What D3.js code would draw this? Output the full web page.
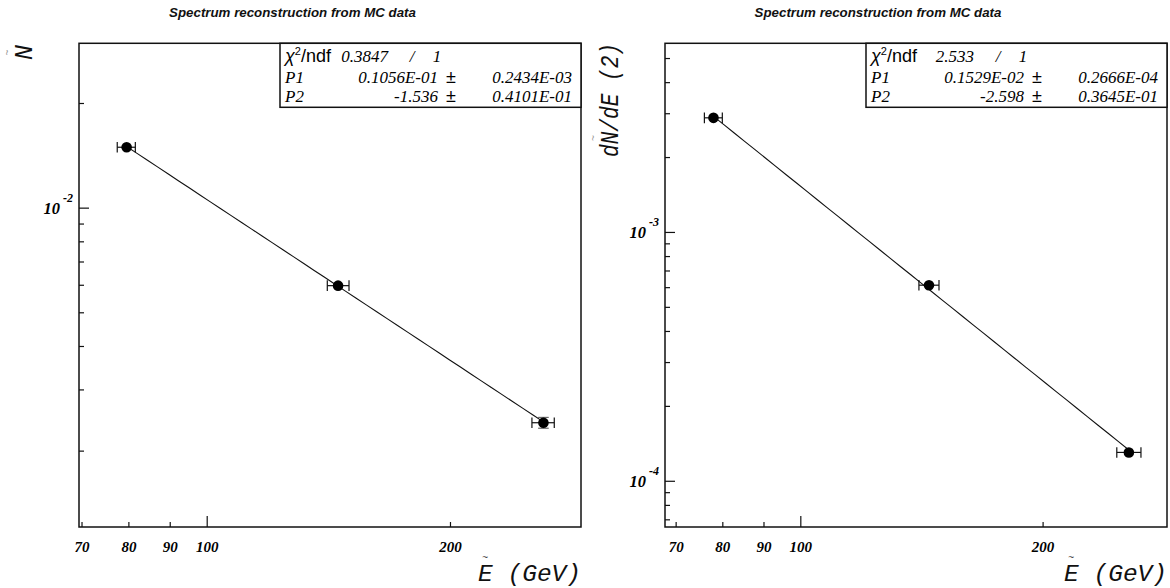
<!DOCTYPE html>
<html><head><meta charset="utf-8">
<script src="https://cdn.jsdelivr.net/npm/d3@7"></script>
<style>html,body{margin:0;padding:0;background:#fff;} svg{display:block}</style>
</head><body>
<svg id="c" width="1170" height="588"></svg>
<script>
// ---------------- data ----------------
const titleText = "Spectrum reconstruction from MC data";
const xTickLabels = [70, 80, 90, 100, 200];
const xTitle = "E (GeV)";

// left panel
const leftE    = [79.6, 145.4, 261.0];
const leftELo  = [77.5, 141.0, 252.6];
const leftEHi  = [81.6, 150.0, 269.2];
const leftN    = [0.01492, 0.005965, 0.002406];
const leftNErr = [0.00020, 0.00008, 0.000086];
const leftYTitle = "N";
const leftFitP1 = 0.01056, leftFitP2 = -1.536;
const leftChi2Text = ["0.3847", "1"];
const leftP1Text = ["P1", "0.1056E-01", "0.2434E-03"];
const leftP2Text = ["P2", "-1.536", "0.4101E-01"];

// right panel
const rightE    = [78.0, 144.5, 256.0];
const rightELo  = [76.0, 140.4, 247.3];
const rightEHi  = [80.0, 148.7, 265.0];
const rightN    = [0.002875, 0.000611, 0.000130];
const rightNErr = [0.00003, 0.000008, 0.000002];
const rightYTitle = "dN/dE (2)";
const rightFitP1 = 0.001529, rightFitP2 = -2.598;
const rightChi2Text = ["2.533", "1"];
const rightP1Text = ["P1", "0.1529E-02", "0.2666E-04"];
const rightP2Text = ["P2", "-2.598", "0.3645E-01"];

// ---------------- drawing ----------------
const svg = d3.select("#c");
const serifBI = "'Liberation Serif','Times New Roman',serif";
const mono = "'Liberation Mono','Courier New',monospace";
const sans = "'Liberation Sans',Arial,Helvetica,sans-serif";

function panel(cfg) {
  const g = svg.append("g");
  const x = d3.scaleLog().domain(cfg.xDomain).range([cfg.x0, cfg.x1]);
  const y = d3.scaleLog().domain(cfg.yDomain).range([cfg.y1, cfg.y0]);

  // title
  g.append("text").attr("x", cfg.cx).attr("y", 17)
    .attr("text-anchor", "middle")
    .style("font-family", sans).style("font-weight", "bold").style("font-style", "italic")
    .style("font-size", "13.3px").attr("fill", "#111").text(titleText);

  // frame
  g.append("rect").attr("x", cfg.x0).attr("y", cfg.y0)
    .attr("width", cfg.x1 - cfg.x0).attr("height", cfg.y1 - cfg.y0)
    .attr("fill", "none").attr("stroke", "#111").attr("stroke-width", 1.5);

  const isMajor = v => Math.abs(Math.log10(v) - Math.round(Math.log10(v))) < 1e-9;

  // x ticks (inward)
  const xt = x.ticks();
  const xMinor = xt.filter(v => !isMajor(v)), xMajor = xt.filter(isMajor);
  [[xMinor, 5], [xMajor, 11]].forEach(([vals, len]) => {
    const a = g.append("g").attr("transform", `translate(0,${cfg.y1})`)
      .call(d3.axisTop(x).tickValues(vals).tickSize(len).tickFormat(""));
    a.select(".domain").remove();
    a.selectAll("line").attr("stroke", "#111").attr("stroke-width", 1.2);
  });
  // x labels
  const xl = g.append("g").attr("transform", `translate(0,${cfg.y1})`)
    .call(d3.axisBottom(x).tickValues(xTickLabels).tickSize(0).tickPadding(14.5).tickFormat(d3.format("d")));
  xl.select(".domain").remove();
  xl.selectAll("text").style("font-family", serifBI).style("font-weight", "bold")
    .style("font-style", "italic").style("font-size", "15px").attr("fill", "#000");

  // y ticks (inward)
  const yt = y.ticks();
  const yMinor = yt.filter(v => !isMajor(v)), yMajor = yt.filter(isMajor);
  [[yMinor, 5], [yMajor, 10]].forEach(([vals, len]) => {
    const a = g.append("g").attr("transform", `translate(${cfg.x0},0)`)
      .call(d3.axisRight(y).tickValues(vals).tickSize(len).tickFormat(""));
    a.select(".domain").remove();
    a.selectAll("line").attr("stroke", "#111").attr("stroke-width", 1.2);
  });
  // y labels at powers of ten
  yMajor.forEach(v => {
    const e = Math.round(Math.log10(v));
    const yy = y(v);
    g.append("text").attr("x", cfg.x0 - 19).attr("y", yy + 6).attr("text-anchor", "end")
      .style("font-family", serifBI).style("font-weight", "bold").style("font-style", "italic")
      .style("font-size", "16.5px").text("10");
    g.append("text").attr("x", cfg.x0 - 16).attr("y", yy - 6).attr("text-anchor", "start")
      .style("font-family", serifBI).style("font-weight", "bold").style("font-style", "italic")
      .style("font-size", "12px").text(String(e));
  });

  // x title
  const xtText = g.append("text").attr("x", cfg.x1).attr("y", 581).attr("text-anchor", "end")
    .style("font-family", mono).style("font-style", "italic").style("font-size", "24.5px")
    .attr("fill", "#111").text(xTitle);
  const xtLen = xtText.node().getComputedTextLength();
  g.append("text").attr("x", cfg.x1 - xtLen + 7).attr("y", 561).attr("text-anchor", "middle")
    .style("font-family", sans).style("font-size", "10px").attr("fill", "#444").text("~");

  // y title
  const ytG = g.append("g").attr("transform", `translate(${cfg.ytx},${cfg.yty}) rotate(-90)`);
  const ytText = ytG.append("text").attr("x", 0).attr("y", 0).attr("text-anchor", "start")
    .style("font-family", mono).style("font-style", "italic").style("font-size", "25px")
    .attr("fill", "#111").text(cfg.yTitle);
  if (cfg.ytLen) ytText.attr("textLength", cfg.ytLen).attr("lengthAdjust", "spacingAndGlyphs");
  ytG.append("text").attr("x", cfg.tildeOff).attr("y", -21).attr("text-anchor", "middle")
    .style("font-family", sans).style("font-size", "10px").attr("fill", "#999").text("~");

  // fit line
  const eMin = d3.min(cfg.E), eMax = d3.max(cfg.E);
  const fitPts = d3.range(0, 41).map(i => {
    const e = eMin * Math.pow(eMax / eMin, i / 40);
    return [e, cfg.p1 * Math.pow(e / 100, cfg.p2)];
  });
  g.append("path").datum(fitPts)
    .attr("d", d3.line().x(d => x(d[0])).y(d => y(d[1])))
    .attr("fill", "none").attr("stroke", "#111").attr("stroke-width", 1.1);

  // points with error bars
  const r = 5.3, cap = 5.3;
  cfg.E.forEach((e, i) => {
    const px = x(e), py = y(cfg.N[i]);
    const xl0 = x(cfg.ELo[i]), xr0 = x(cfg.EHi[i]);
    g.append("line").attr("x1", xl0).attr("x2", xr0).attr("y1", py).attr("y2", py)
      .attr("stroke", "#111").attr("stroke-width", 1.2);
    [xl0, xr0].forEach(xx => g.append("line").attr("x1", xx).attr("x2", xx)
      .attr("y1", py - cap).attr("y2", py + cap).attr("stroke", "#111").attr("stroke-width", 1.2));
    const yTop = y(cfg.N[i] + cfg.NErr[i]), yBot = y(cfg.N[i] - cfg.NErr[i]);
    if ((yBot - yTop) / 2 > r - 0.2) {
      g.append("line").attr("x1", px).attr("x2", px).attr("y1", yTop).attr("y2", yBot)
        .attr("stroke", "#111").attr("stroke-width", 1.2);
      [yTop, yBot].forEach(yy => g.append("line").attr("x1", px - cap).attr("x2", px + cap)
        .attr("y1", yy).attr("y2", yy).attr("stroke", "#666").attr("stroke-width", 1.2));
    }
    g.append("circle").attr("cx", px).attr("cy", py).attr("r", r).attr("fill", "#000");
  });

  // stat box
  const bx = cfg.bx, by = cfg.y0, bw = cfg.x1 - cfg.bx, bh = 64;
  g.append("rect").attr("x", bx).attr("y", by).attr("width", bw).attr("height", bh)
    .attr("fill", "#fff").attr("stroke", "#111").attr("stroke-width", 1.5);
  const rows = [by + 19, by + 39.5, by + 59];
  const chi = g.append("text").attr("x", bx + 5).attr("y", rows[0])
    .style("font-family", sans).style("font-size", "18px").attr("fill", "#000");
  chi.append("tspan").style("font-style", "italic").text("χ");
  chi.append("tspan").attr("dy", -7).style("font-size", "11px").text("2");
  chi.append("tspan").attr("dy", 7).text("/ndf");
  const serifI = t => t.style("font-family", serifBI).style("font-style", "italic")
    .style("font-size", "17px").attr("fill", "#000");
  serifI(g.append("text").attr("x", bx + 108).attr("y", rows[0]).attr("text-anchor", "end").text(cfg.chi2[0]));
  serifI(g.append("text").attr("x", bx + 132).attr("y", rows[0]).attr("text-anchor", "middle").text("/"));
  serifI(g.append("text").attr("x", bx + 157).attr("y", rows[0]).attr("text-anchor", "middle").text(cfg.chi2[1]));
  [cfg.p1t, cfg.p2t].forEach((p, k) => {
    const yy = rows[k + 1];
    serifI(g.append("text").attr("x", bx + 5).attr("y", yy).text(p[0]));
    serifI(g.append("text").attr("x", bx + 158).attr("y", yy).attr("text-anchor", "end").text(p[1]));
    g.append("text").attr("x", bx + 171).attr("y", yy).attr("text-anchor", "middle")
      .style("font-family", sans).style("font-size", "18px").attr("fill", "#000").text("±");
    serifI(g.append("text").attr("x", bx + 292).attr("y", yy).attr("text-anchor", "end").text(p[2]));
  });
}

panel({
  cx: 292.5, x0: 79, x1: 581, y0: 43.3, y1: 527,
  xDomain: [69.5, 290.5], yDomain: [0.001206, 0.0297],
  E: leftE, ELo: leftELo, EHi: leftEHi, N: leftN, NErr: leftNErr,
  p1: leftFitP1, p2: leftFitP2, chi2: leftChi2Text, p1t: leftP1Text, p2t: leftP2Text,
  bx: 280, yTitle: leftYTitle, ytx: 32, yty: 60, ytLen: null, tildeOff: 7.5
});
panel({
  cx: 878, x0: 665, x1: 1167, y0: 43.3, y1: 527,
  xDomain: [67.9, 285.5], yDomain: [6.52e-5, 0.00573],
  E: rightE, ELo: rightELo, EHi: rightEHi, N: rightN, NErr: rightNErr,
  p1: rightFitP1, p2: rightFitP2, chi2: rightChi2Text, p1t: rightP1Text, p2t: rightP2Text,
  bx: 866, yTitle: rightYTitle, ytx: 618, yty: 157, ytLen: 114, tildeOff: 19
});
</script>
</body></html>
